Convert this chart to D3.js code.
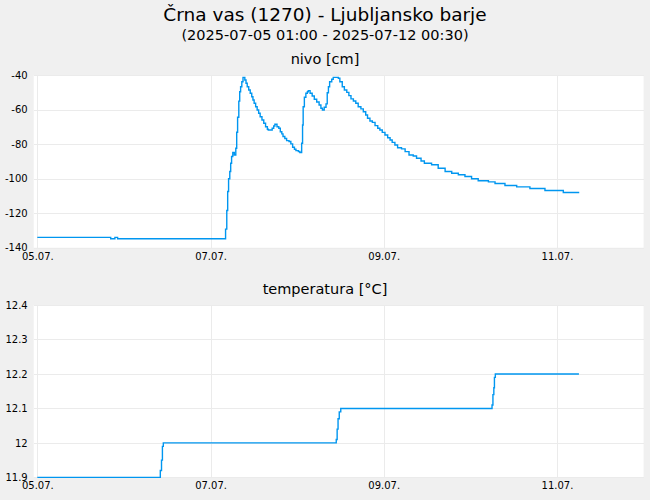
<!DOCTYPE html>
<html>
<head>
<meta charset="utf-8">
<script src="https://cdn.jsdelivr.net/npm/d3@7"></script>
<style>
    body { margin: 0; background: #f0f0f0; }
    svg { display: block; font-family: "DejaVu Sans", sans-serif; }
</style>
</head>
<body>
<div id="chart"></div>
<script>
// Podatki prebrani s slike
const title = "Črna vas (1270) - Ljubljansko barje"
const subtitle = "(2025-07-05 01:00 - 2025-07-12 00:30)"
const nivoLabel = "nivo [cm]"
const tempLabel = "temperatura [°C]"

const xDomain = ["2025-07-04 23:00", "2025-07-12 00:00"]
const xTickDates = ["2025-07-05 00:00", "2025-07-07 00:00", "2025-07-09 00:00", "2025-07-11 00:00"]

const nivoTicks = [-40, -60, -80, -100, -120, -140]
const tempTicks = [12.4, 12.3, 12.2, 12.1, 12, 11.9]

const nivoTimes = [
    "2025-07-05 00:00", "2025-07-05 20:20", "2025-07-05 21:30", "2025-07-05 22:15",
    "2025-07-07 04:10", "2025-07-07 04:30", "2025-07-07 04:45", "2025-07-07 05:00",
    "2025-07-07 05:20", "2025-07-07 05:35", "2025-07-07 05:50", "2025-07-07 06:10",
    "2025-07-07 06:35", "2025-07-07 07:00", "2025-07-07 07:15", "2025-07-07 07:30",
    "2025-07-07 07:50", "2025-07-07 08:05", "2025-07-07 08:20", "2025-07-07 08:40",
    "2025-07-07 09:00", "2025-07-07 09:30", "2025-07-07 09:50", "2025-07-07 10:10",
    "2025-07-07 10:35", "2025-07-07 11:00", "2025-07-07 11:25", "2025-07-07 11:45",
    "2025-07-07 12:05", "2025-07-07 12:30", "2025-07-07 12:55", "2025-07-07 13:20",
    "2025-07-07 13:45", "2025-07-07 14:15", "2025-07-07 14:45", "2025-07-07 15:15",
    "2025-07-07 15:45", "2025-07-07 16:00", "2025-07-07 17:05", "2025-07-07 17:30",
    "2025-07-07 17:50", "2025-07-07 18:25", "2025-07-07 18:55", "2025-07-07 19:20",
    "2025-07-07 19:45", "2025-07-07 20:05", "2025-07-07 20:35", "2025-07-07 21:05",
    "2025-07-07 21:45", "2025-07-07 22:15", "2025-07-07 22:45", "2025-07-07 23:15",
    "2025-07-07 23:40", "2025-07-08 00:20", "2025-07-08 00:45", "2025-07-08 01:15",
    "2025-07-08 01:30", "2025-07-08 01:40", "2025-07-08 02:00", "2025-07-08 02:25",
    "2025-07-08 02:50", "2025-07-08 03:05", "2025-07-08 03:35", "2025-07-08 04:10",
    "2025-07-08 04:45", "2025-07-08 05:25", "2025-07-08 06:05", "2025-07-08 06:35",
    "2025-07-08 07:00", "2025-07-08 07:30", "2025-07-08 08:00", "2025-07-08 08:20",
    "2025-07-08 08:40", "2025-07-08 09:00", "2025-07-08 09:35", "2025-07-08 10:00",
    "2025-07-08 11:25", "2025-07-08 11:50", "2025-07-08 12:30", "2025-07-08 13:05",
    "2025-07-08 13:45", "2025-07-08 14:20", "2025-07-08 14:55", "2025-07-08 15:35",
    "2025-07-08 16:15", "2025-07-08 16:55", "2025-07-08 17:40", "2025-07-08 18:20",
    "2025-07-08 19:00", "2025-07-08 19:30", "2025-07-08 20:10", "2025-07-08 20:50",
    "2025-07-08 21:35", "2025-07-08 22:20", "2025-07-08 22:55", "2025-07-08 23:35",
    "2025-07-09 00:20", "2025-07-09 01:05", "2025-07-09 01:45", "2025-07-09 02:20",
    "2025-07-09 03:05", "2025-07-09 03:50", "2025-07-09 04:55", "2025-07-09 05:55",
    "2025-07-09 07:00", "2025-07-09 08:10", "2025-07-09 09:05", "2025-07-09 10:20",
    "2025-07-09 11:15", "2025-07-09 13:15", "2025-07-09 15:05", "2025-07-09 17:00",
    "2025-07-09 18:50", "2025-07-09 20:40", "2025-07-09 22:30", "2025-07-10 00:20",
    "2025-07-10 02:10", "2025-07-10 05:00", "2025-07-10 06:50", "2025-07-10 09:35",
    "2025-07-10 12:50", "2025-07-10 16:30", "2025-07-10 20:40", "2025-07-11 01:45",
    "2025-07-11 06:10"
]
const nivoValues = [
    -134, -134.8, -134, -134.8,
    -129.2, -118.4, -107.4, -100,
    -95.8, -91, -87.1, -84.8,
    -86.2, -82.3, -73, -64.3,
    -55, -49.5, -46.6, -43.7,
    -41.2, -42.7, -44.6, -46.6,
    -48.5, -50.4, -52.4, -54.3,
    -56.2, -58.2, -60.1, -62.0,
    -64.0, -65.9, -67.8, -69.8,
    -71.3, -71.7, -70.7, -69.4,
    -68.4, -69.8, -70.7, -72.7,
    -74.0, -75.5, -76.7, -77.9,
    -78.4, -79.8, -81.7, -82.9,
    -83.7, -84.2, -84.8, -79.4,
    -68.8, -58.2, -52.7, -50.4,
    -49.5, -48.9, -50.4, -52.0,
    -53.9, -55.5, -57.2, -59.1,
    -60.1, -58.5, -56.6, -50.1,
    -46.6, -43.7, -42.3, -41.2,
    -41.7, -43.7, -46.6, -48.5,
    -49.9, -51.8, -53.7, -54.9,
    -56.2, -58.2, -59.5, -61.1,
    -63.0, -64.9, -66.5, -67.3,
    -69.2, -70.7, -71.7, -73.1,
    -74.6, -76.2, -77.5, -78.9,
    -80.4, -82.0, -82.7, -84.3,
    -86.2, -86.8, -88.1, -89.7,
    -91.0, -91.9, -93.9, -95.8,
    -96.8, -97.7, -98.7, -100,
    -101.2, -101.8, -102.8, -103.9,
    -104.7, -105.7, -106.8, -108.0,
    -108.0
]

const tempTimes = [
    "2025-07-05 00:00", "2025-07-06 10:05", "2025-07-06 10:25", "2025-07-06 10:40",
    "2025-07-06 10:55", "2025-07-08 10:50", "2025-07-08 11:05", "2025-07-08 11:20",
    "2025-07-08 11:40", "2025-07-08 12:05", "2025-07-10 06:00", "2025-07-10 06:15",
    "2025-07-10 06:30", "2025-07-10 06:40", "2025-07-10 06:55", "2025-07-11 06:05"
]
const tempValues = [
    11.9, 11.92, 11.95, 11.99,
    12.0, 12.01, 12.04, 12.07,
    12.09, 12.1, 12.11, 12.14,
    12.16, 12.19, 12.2, 12.2
]

const width = 650
const height = 500
const lineColor = "#0096f0"
const gridColor = "#ebebeb"

const parseTime = d3.timeParse("%Y-%m-%d %H:%M")
const formatDay = d3.timeFormat("%d.%m.")

const svg = d3.select("#chart")
              .append("svg")
              .attr("width", width)
              .attr("height", height)

svg.append("rect")
   .attr("width", width)
   .attr("height", height)
   .attr("fill", "#f0f0f0")

svg.append("text")
   .attr("x", width / 2)
   .attr("y", 21)
   .attr("text-anchor", "middle")
   .style("font-size", "18.5px")
   .text(title)

svg.append("text")
   .attr("x", width / 2)
   .attr("y", 40)
   .attr("text-anchor", "middle")
   .style("font-size", "14.5px")
   .text(subtitle)

const x = d3.scaleTime()
            .domain(xDomain.map(parseTime))
            .range([33.7, 643.6])

// Narise en graf (ozadje, mreza, osi, crta)
function drawPanel(top, bottom, label, ticks, times, values, fmt) {
    const y = d3.scaleLinear()
                .domain([d3.min(ticks), d3.max(ticks)])
                .range([bottom, top])

    const g = svg.append("g")

    g.append("text")
     .attr("x", width / 2)
     .attr("y", top - 11.5)
     .attr("text-anchor", "middle")
     .style("font-size", "14.5px")
     .text(label)

    g.append("rect")
     .attr("x", x.range()[0])
     .attr("y", top)
     .attr("width", x.range()[1] - x.range()[0])
     .attr("height", bottom - top)
     .attr("fill", "#ffffff")

    const tickDates = xTickDates.map(parseTime)

    // vertikalna mreza
    g.append("g")
     .attr("transform", `translate(0, ${top})`)
     .call(d3.axisBottom(x).tickValues(tickDates).tickSize(bottom - top).tickFormat(""))
     .call(a => a.select(".domain").remove())
     .call(a => a.selectAll("line").attr("stroke", gridColor).attr("shape-rendering", "crispEdges"))

    // horizontalna mreza
    g.append("g")
     .attr("transform", `translate(${x.range()[0]}, 0)`)
     .call(d3.axisRight(y).tickValues(ticks).tickSize(x.range()[1] - x.range()[0]).tickFormat(""))
     .call(a => a.select(".domain").remove())
     .call(a => a.selectAll("line").attr("stroke", gridColor).attr("shape-rendering", "crispEdges"))

    // oznake na y osi
    g.append("g")
     .attr("transform", `translate(${x.range()[0]}, 0)`)
     .call(d3.axisLeft(y).tickValues(ticks).tickSize(0).tickPadding(6).tickFormat(fmt))
     .call(a => a.select(".domain").remove())
     .call(a => a.selectAll("text").attr("fill", "#000").style("font-size", "10px").style("font-family", "DejaVu Sans"))

    // oznake na x osi
    g.append("g")
     .attr("transform", `translate(0, ${bottom})`)
     .call(d3.axisBottom(x).tickValues(tickDates).tickSize(0).tickPadding(5).tickFormat(formatDay))
     .call(a => a.select(".domain").remove())
     .call(a => a.selectAll("text").attr("fill", "#000").style("font-size", "10px").style("font-family", "DejaVu Sans"))

    const data = times.map((t, i) => ({time: parseTime(t), value: values[i]}))

    const line = d3.line()
                   .x(d => x(d.time))
                   .y(d => y(d.value))
                   .curve(d3.curveStepAfter)

    g.append("path")
     .datum(data)
     .attr("fill", "none")
     .attr("stroke", lineColor)
     .attr("stroke-width", 1.4)
     .attr("d", line)
}

drawPanel(75.3, 247.7, nivoLabel, nivoTicks, nivoTimes, nivoValues, d => d)
drawPanel(305, 477.4, tempLabel, tempTicks, tempTimes, tempValues, d => String(+d.toFixed(1)))
</script>
</body>
</html>
